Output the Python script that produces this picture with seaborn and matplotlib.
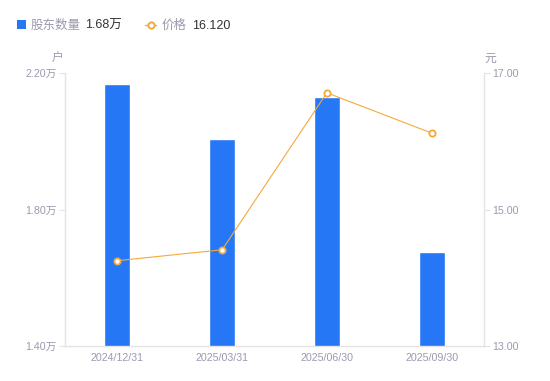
import numpy as np
import pandas as pd
import seaborn as sns
import matplotlib.pyplot as plt
from matplotlib.lines import Line2D
from matplotlib.patches import Rectangle

dates = ['2024/12/31', '2025/03/31', '2025/06/30', '2025/09/30']
holders = [2.168, 2.007, 2.130, 1.675]   # 万户
price = [14.25, 14.41, 16.71, 16.12]     # 元

blue = '#2577F5'
orange = '#F5A93A'
grey = '#9A9AAE'
spine = '#E3E3E8'

sns.set_theme(style='white')
plt.rcParams['font.family'] = ['Liberation Sans', 'Noto Sans CJK SC', 'DejaVu Sans']

df = pd.DataFrame({'date': dates, 'holders': holders, 'price': price, 'pos': np.arange(len(dates))})

fig = plt.figure(figsize=(5.5, 3.81), dpi=100)
ax = fig.add_axes([65 / 550, 35 / 381, 419 / 550, 273 / 381])
sns.barplot(data=df, x='date', y='holders', color=blue, width=0.25, saturation=1, ax=ax)
ax.set_xlim(-0.5, 3.5)
ax.set_ylim(1.40, 2.20)
ax.set_yticks([1.40, 1.80, 2.20])
ax.set_yticklabels(['1.40万', '1.80万', '2.20万'])
ax.set_xlabel('')
ax.set_ylabel('')

ax2 = ax.twinx()
sns.lineplot(data=df, x='pos', y='price', color=orange, linewidth=0.8, marker='o',
             markersize=4.5, markerfacecolor='white', markeredgecolor=orange,
             markeredgewidth=1.3, ax=ax2)
ax2.set_ylim(13, 17)
ax2.set_yticks([13, 15, 17])
ax2.set_yticklabels(['13.00', '15.00', '17.00'])
ax2.set_ylabel('')
ax2.set_xlabel('')

for a in (ax, ax2):
    for s in a.spines.values():
        s.set_visible(False)
    a.tick_params(axis='both', labelsize=7.7, colors=grey, length=4, width=0.8, pad=2)
    a.grid(False)
ax.spines['left'].set_visible(True)
ax.spines['bottom'].set_visible(True)
ax2.spines['right'].set_visible(True)
for s in (ax.spines['left'], ax.spines['bottom'], ax2.spines['right']):
    s.set_color(spine)
    s.set_linewidth(1)
ax.tick_params(axis='x', length=0, pad=5)
ax.tick_params(axis='y', color=spine)
ax2.tick_params(axis='y', color=spine)
ax.set_zorder(1)
ax2.set_zorder(2)

fig.text(58 / 550, 1 - 59 / 381, '户', fontsize=8.5, color=grey, ha='center', va='center')
fig.text(490 / 550, 1 - 59 / 381, '元', fontsize=8.5, color=grey, ha='center', va='center')

# legend, laid out by hand
ly = 1 - 24.5 / 381
ty = 1 - 26 / 381
fig.add_artist(Rectangle((17 / 550, 1 - 29 / 381), 9 / 550, 9 / 381,
                         transform=fig.transFigure, facecolor=blue, edgecolor='none'))
fig.add_artist(Line2D([145 / 550, 156 / 550], [ly, ly], transform=fig.transFigure,
                      color=orange, linewidth=1))
fig.add_artist(Line2D([150.5 / 550], [ly], transform=fig.transFigure, marker='o',
                      markersize=4.5, markerfacecolor='white', markeredgecolor=orange,
                      markeredgewidth=1.4))
fig.text(31 / 550, ty, '股东数量', fontsize=9, color=grey, va='center')
fig.text(85 / 550, ty, '1.68万', fontsize=9, color='#333333', va='center')
fig.text(162 / 550, ty, '价格', fontsize=9, color=grey, va='center')
fig.text(192 / 550, ty, '16.120', fontsize=9, color='#333333', va='center')

fig.savefig('out.png', dpi=100)
